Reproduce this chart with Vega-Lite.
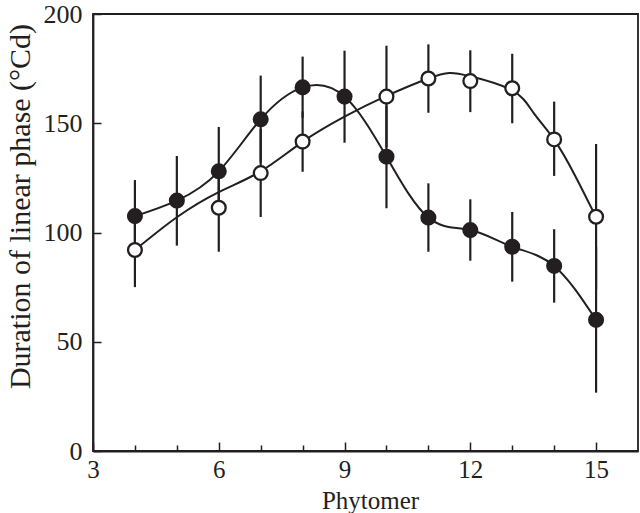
{
  "$schema": "https://vega.github.io/schema/vega-lite/v6.json",
  "width": 545,
  "height": 437,
  "autosize": "none",
  "padding": {"left": 93, "top": 14, "right": 2, "bottom": 62},
  "background": "white",
  "config": {
    "view": {"stroke": "#231f20", "strokeWidth": 1.8},
    "font": "Liberation Serif",
    "axis": {
      "domainColor": "#231f20", "domainWidth": 1.8,
      "tickColor": "#231f20", "tickWidth": 1.5,
      "labelFont": "Liberation Serif", "titleFont": "Liberation Serif",
      "labelColor": "#231f20", "titleColor": "#231f20",
      "labelFlush": false,
      "grid": false, "labelFontSize": 26, "titleFontSize": 26, "titleFontWeight": "normal"
    }
  },
  "datasets": {
    "points": [
      {"phytomer": 4, "series": "filled", "mean": 107.5, "lo": 91, "hi": 124},
      {"phytomer": 5, "series": "filled", "mean": 114.6, "lo": 94, "hi": 135},
      {"phytomer": 6, "series": "filled", "mean": 128, "lo": 108, "hi": 148.3},
      {"phytomer": 7, "series": "filled", "mean": 151.8, "lo": 132, "hi": 171.8},
      {"phytomer": 8, "series": "filled", "mean": 166.4, "lo": 152.5, "hi": 180.5},
      {"phytomer": 9, "series": "filled", "mean": 162.2, "lo": 141.1, "hi": 183.2},
      {"phytomer": 10, "series": "filled", "mean": 134.7, "lo": 111.1, "hi": 158},
      {"phytomer": 11, "series": "filled", "mean": 106.8, "lo": 91.2, "hi": 122.5},
      {"phytomer": 12, "series": "filled", "mean": 101.1, "lo": 87.1, "hi": 115.2},
      {"phytomer": 13, "series": "filled", "mean": 93.5, "lo": 77.5, "hi": 109.4},
      {"phytomer": 14, "series": "filled", "mean": 84.7, "lo": 67.9, "hi": 101.5},
      {"phytomer": 15, "series": "filled", "mean": 60, "lo": 26.7, "hi": 93.3},
      {"phytomer": 4, "series": "open", "mean": 92, "lo": 75, "hi": 109},
      {"phytomer": 6, "series": "open", "mean": 111.3, "lo": 91.2, "hi": 131.4},
      {"phytomer": 7, "series": "open", "mean": 127.2, "lo": 107.1, "hi": 147.3},
      {"phytomer": 8, "series": "open", "mean": 141.6, "lo": 127.8, "hi": 155.4},
      {"phytomer": 10, "series": "open", "mean": 162.2, "lo": 139, "hi": 185.5},
      {"phytomer": 11, "series": "open", "mean": 170.5, "lo": 154.8, "hi": 186.1},
      {"phytomer": 12, "series": "open", "mean": 169.3, "lo": 155.1, "hi": 183.4},
      {"phytomer": 13, "series": "open", "mean": 166, "lo": 150, "hi": 181.8},
      {"phytomer": 14, "series": "open", "mean": 142.6, "lo": 125.9, "hi": 159.9},
      {"phytomer": 15, "series": "open", "mean": 107.2, "lo": 74, "hi": 140.5}
    ],
    "curve": [
      {"phytomer": 4, "series": "filled", "value": 107.5},
      {"phytomer": 5, "series": "filled", "value": 114.6},
      {"phytomer": 6, "series": "filled", "value": 128},
      {"phytomer": 7, "series": "filled", "value": 151.8},
      {"phytomer": 8, "series": "filled", "value": 166.4},
      {"phytomer": 9, "series": "filled", "value": 162.2},
      {"phytomer": 10, "series": "filled", "value": 134.7},
      {"phytomer": 11, "series": "filled", "value": 106.8},
      {"phytomer": 12, "series": "filled", "value": 101.1},
      {"phytomer": 13, "series": "filled", "value": 93.5},
      {"phytomer": 14, "series": "filled", "value": 84.7},
      {"phytomer": 15, "series": "filled", "value": 60},
      {"phytomer": 4, "series": "open", "value": 92},
      {"phytomer": 5, "series": "open", "value": 107},
      {"phytomer": 6, "series": "open", "value": 118.5},
      {"phytomer": 7, "series": "open", "value": 128},
      {"phytomer": 8, "series": "open", "value": 141.5},
      {"phytomer": 9, "series": "open", "value": 153},
      {"phytomer": 10, "series": "open", "value": 162.5},
      {"phytomer": 11, "series": "open", "value": 170.5},
      {"phytomer": 11.5, "series": "open", "value": 173},
      {"phytomer": 12, "series": "open", "value": 171.5},
      {"phytomer": 13, "series": "open", "value": 165},
      {"phytomer": 13.5, "series": "open", "value": 155},
      {"phytomer": 14, "series": "open", "value": 142.5},
      {"phytomer": 14.5, "series": "open", "value": 126},
      {"phytomer": 15, "series": "open", "value": 107}
    ]
  },
  "layer": [
    {
      "data": {"name": "points"},
      "mark": {"type": "rule", "strokeWidth": 2.2, "color": "#231f20"},
      "encoding": {
        "x": {
          "field": "phytomer", "type": "quantitative",
          "scale": {"domain": [3, 16], "nice": false, "zero": false},
          "axis": {
            "title": "Phytomer",
            "values": [3, 4, 5, 6, 7, 8, 9, 10, 11, 12, 13, 14, 15],
            "labelExpr": "datum.value % 3 === 0 ? datum.label : ''",
            "tickSize": {"condition": {"test": "datum.value % 3 === 0", "value": -9}, "value": -6},
            "labelPadding": 15,
            "labelFontSize": 25,
            "titleX": 277,
            "titleY": 57,
            "titleFontSize": 25,
            "titleBaseline": "alphabetic"
          }
        },
        "y": {
          "field": "lo", "type": "quantitative",
          "scale": {"domain": [0, 200], "nice": false},
          "axis": {
            "title": "Duration of linear phase (°Cd)",
            "values": [0, 50, 100, 150, 200],
            "tickSize": -8,
            "labelPadding": 19,
            "titleFontSize": 30,
            "titleX": -64,
            "titleY": 192,
            "titleAngle": -90,
            "titleAlign": "center",
            "titleBaseline": "alphabetic"
          }
        },
        "y2": {"field": "hi"}
      }
    },
    {
      "data": {"name": "curve"},
      "mark": {"type": "line", "interpolate": "natural", "strokeWidth": 2, "color": "#231f20"},
      "encoding": {
        "x": {"field": "phytomer", "type": "quantitative"},
        "y": {"field": "value", "type": "quantitative"},
        "detail": {"field": "series"}
      }
    },
    {
      "data": {"name": "points"},
      "mark": {"type": "circle", "size": 190, "stroke": "#231f20", "strokeWidth": 2.3, "opacity": 1},
      "encoding": {
        "x": {"field": "phytomer", "type": "quantitative"},
        "y": {"field": "mean", "type": "quantitative"},
        "fill": {
          "field": "series", "type": "nominal",
          "scale": {"domain": ["filled", "open"], "range": ["#231f20", "white"]},
          "legend": null
        }
      }
    }
  ]
}
